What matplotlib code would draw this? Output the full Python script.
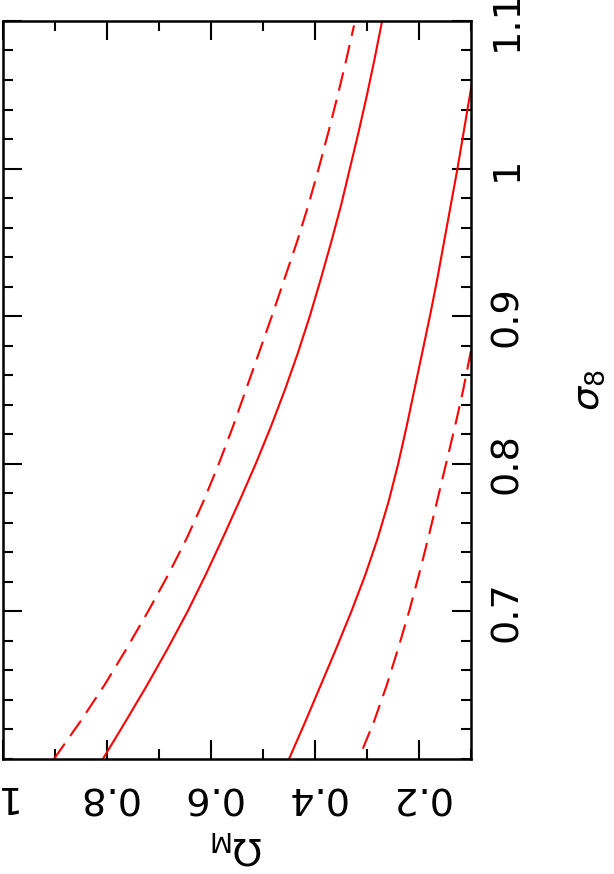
import matplotlib
matplotlib.use('Agg')
import matplotlib.pyplot as plt
from matplotlib.ticker import MultipleLocator, FixedLocator

# valores de sigma_8 onde as curvas foram lidas
sigma8 = [0.600, 0.625, 0.650, 0.675, 0.700, 0.725, 0.750, 0.775, 0.800, 0.825, 0.850,
          0.875, 0.900, 0.925, 0.950, 0.975, 1.000, 1.025, 1.050, 1.075, 1.100]

# Omega_M ao longo de cada curva
om_solido_a = [0.808, 0.765, 0.723, 0.683, 0.645, 0.610, 0.577, 0.545, 0.514, 0.485, 0.458,
               0.433, 0.410, 0.389, 0.369, 0.350, 0.333, 0.316, 0.300, 0.285, 0.271]

sigma8_ta = [0.600, 0.625, 0.650, 0.675, 0.700, 0.725, 0.750, 0.775, 0.800, 0.825, 0.850,
             0.875, 0.900, 0.925, 0.950, 0.975, 1.000, 1.025, 1.050, 1.075, 1.097]
om_tracejado_a = [0.902, 0.852, 0.805, 0.762, 0.721, 0.682, 0.646, 0.614, 0.585, 0.558, 0.533,
                  0.508, 0.483, 0.459, 0.435, 0.413, 0.393, 0.374, 0.356, 0.339, 0.325]

sigma8_sb = [0.600, 0.625, 0.650, 0.675, 0.700, 0.725, 0.750, 0.775, 0.800, 0.825,
             0.850, 0.875, 0.900, 0.925, 0.950, 0.975, 1.000, 1.025, 1.050, 1.075]
om_solido_b = [0.450, 0.419, 0.389, 0.359, 0.330, 0.303, 0.279, 0.258, 0.240, 0.224,
               0.209, 0.194, 0.179, 0.165, 0.152, 0.139, 0.126, 0.114, 0.102, 0.090]

sigma8_tb = [0.607, 0.625, 0.650, 0.675, 0.700, 0.725, 0.750, 0.775, 0.800, 0.825,
             0.850, 0.875, 0.900]
om_tracejado_b = [0.308, 0.287, 0.262, 0.240, 0.219, 0.200, 0.182, 0.165, 0.148, 0.131,
                  0.115, 0.101, 0.088]

ticks_om = [0.2, 0.4, 0.6, 0.8, 1.0]
labels_om = ['0.2', '0.4', '0.6', '0.8', '1']
ticks_s8 = [0.7, 0.8, 0.9, 1.0, 1.1]
labels_s8 = ['0.7', '0.8', '0.9', '1', '1.1']

fig = plt.figure(figsize=(6.14, 8.74), dpi=100)
ax = fig.add_axes([0.0049, 0.1316, 0.7622, 0.8444])

cor = '#ff0000'
tracejado = (0, (9, 4.5))
ax.plot(om_solido_a, sigma8, color=cor, lw=1.5)
ax.plot(om_tracejado_a, sigma8_ta, color=cor, lw=1.5, linestyle=tracejado)
ax.plot(om_solido_b, sigma8_sb, color=cor, lw=1.5)
ax.plot(om_tracejado_b, sigma8_tb, color=cor, lw=1.5, linestyle=tracejado)

# eixo Omega_M invertido (1 a esquerda)
ax.set_xlim(1.0, 0.1)
ax.set_ylim(0.6, 1.1)

ax.xaxis.set_major_locator(FixedLocator(ticks_om))
ax.set_xticklabels(labels_om)
ax.xaxis.set_minor_locator(MultipleLocator(0.1))
ax.yaxis.set_major_locator(FixedLocator(ticks_s8))
ax.set_yticklabels(labels_s8)
ax.yaxis.set_minor_locator(MultipleLocator(0.02))

ax.tick_params(which='both', direction='in', top=True, bottom=True, left=True, right=True,
               labelleft=False, labelright=True, width=1.5, color='black')
ax.tick_params(which='major', length=13.5)
ax.tick_params(which='minor', length=7)
ax.tick_params(axis='x', which='major', labelsize=27.5, pad=14, labelrotation=180)
ax.tick_params(axis='y', which='major', labelsize=27.5, pad=13, labelrotation=90)
for lab in ax.get_yticklabels():
    lab.set_va('center')

for sp in ax.spines.values():
    sp.set_linewidth(1.8)

ax.set_xlabel(r'$\Omega_{\rm M}$', fontsize=27.5, rotation=180, labelpad=10)
ax.yaxis.set_label_position('right')
ax.set_ylabel(r'$\sigma_8$', fontsize=27.5, rotation=90, labelpad=33)

plt.savefig('out.png', dpi=100)
